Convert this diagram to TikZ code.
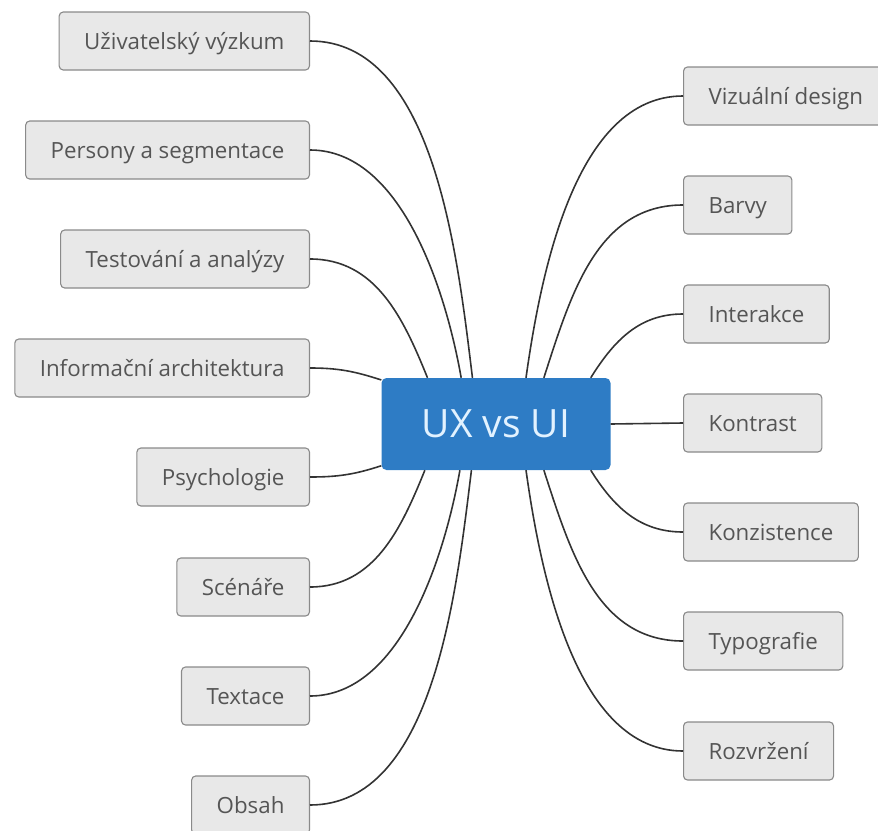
\documentclass[tikz,border=0pt]{standalone}
\usepackage{fontspec}
\setmainfont{Open Sans}
\definecolor{boxfill}{HTML}{E8E8E8}
\definecolor{boxline}{HTML}{8A8A8A}
\definecolor{boxtext}{HTML}{555555}
\definecolor{hubfill}{HTML}{2E7CC5}
\definecolor{hubtext}{HTML}{E2F2FF}
\definecolor{linkcol}{HTML}{333333}
\begin{document}
\begin{tikzpicture}[x=1pt,y=-1pt,
  topic/.style={draw=boxline, fill=boxfill, line width=1.1pt, rounded corners=4pt,
    text=boxtext, minimum height=58pt, inner xsep=25pt, text height=19pt, text depth=3pt,
    font=\fontsize{22.3}{26}\selectfont},
  hub/.style={fill=hubfill, rounded corners=5pt, text=hubtext,
    minimum width=229pt, minimum height=92pt, font=\fontsize{39}{44}\selectfont},
  link/.style={draw=linkcol, line width=1.6pt}]
\useasboundingbox (0,0) rectangle (878,830);
\node[hub] (ux) at (496,424) {UX vs UI};
% left side
\node[topic, anchor=east] (vyzkum) at (310,41) {Uživatelský výzkum};
\node[topic, anchor=east] (persony) at (310,150) {Persony a segmentace};
\node[topic, anchor=east] (testy) at (310,259) {Testování a analýzy};
\node[topic, anchor=east] (ia) at (310,368) {Informační architektura};
\node[topic, anchor=east] (psych) at (310,477) {Psychologie};
\node[topic, anchor=east] (scenare) at (310,587) {Scénáře};
\node[topic, anchor=east] (textace) at (310,696) {Textace};
\node[topic, anchor=east] (obsah) at (310,805) {Obsah};
% right side
\node[topic, anchor=west] (vizual) at (683,96) {Vizuální design};
\node[topic, anchor=west] (barvy) at (683,205) {Barvy};
\node[topic, anchor=west] (interakce) at (683,314) {Interakce};
\node[topic, anchor=west] (kontrast) at (683,423) {Kontrast};
\node[topic, anchor=west] (konzist) at (683,532) {Konzistence};
\node[topic, anchor=west] (typo) at (683,641) {Typografie};
\node[topic, anchor=west] (rozvrzeni) at (683,751) {Rozvržení};
% links
\draw[link] (vyzkum.east) to [out=0,in=97,looseness=0.85] (ux.117.6);
\draw[link] (persony.east) to [out=0,in=100,looseness=0.85] (ux.127.3);
\draw[link] (testy.east) to [out=0,in=112] (ux.146.3);
\draw[link] (ia.east) to [out=0,in=162] (ux.159.8);
\draw[link] (psych.east) to [out=0,in=198] (ux.200);
\draw[link] (scenare.east) to [out=0,in=248] (ux.213.7);
\draw[link] (textace.east) to [out=0,in=260,looseness=0.85] (ux.232.7);
\draw[link] (obsah.east) to [out=0,in=263,looseness=0.85] (ux.242.4);
\draw[link] (vizual.west) to [out=180,in=82,looseness=0.85] (ux.57.8);
\draw[link] (barvy.west) to [out=180,in=72] (ux.44.4);
\draw[link] (interakce.west) to [out=180,in=58] (ux.26.6);
\draw[link] (kontrast.west) -- (ux.east);
\draw[link] (konzist.west) to [out=180,in=-58] (ux.-26.6);
\draw[link] (typo.west) to [out=180,in=-72] (ux.-44.4);
\draw[link] (rozvrzeni.west) to [out=180,in=-82,looseness=0.85] (ux.-57.8);
\end{tikzpicture}
\end{document}
